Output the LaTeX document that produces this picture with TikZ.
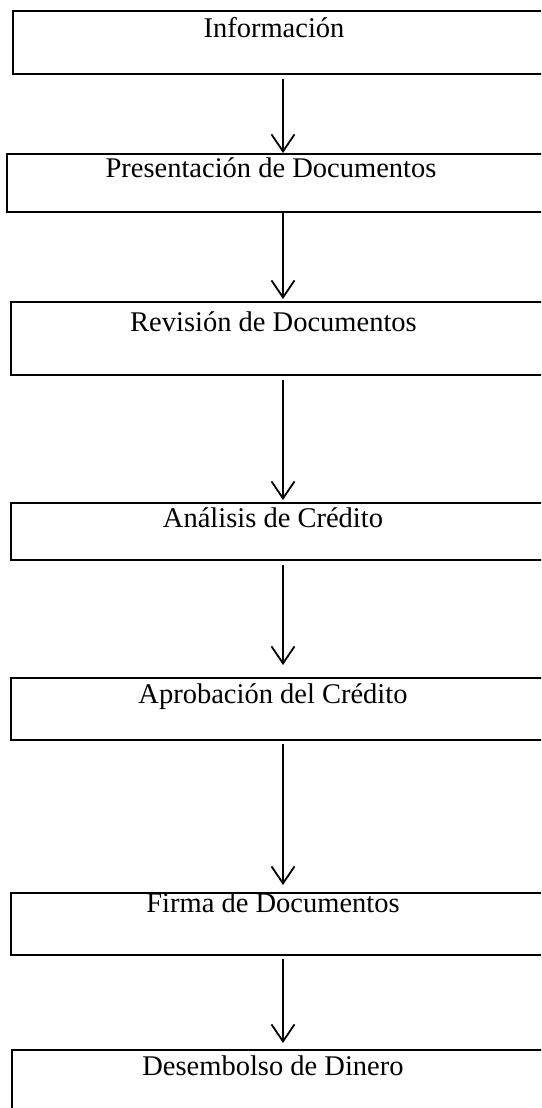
\documentclass[tikz,border=0pt]{standalone}
\usepackage{fontspec}
\setmainfont{Liberation Serif}
\usepackage{tikz}
\usetikzlibrary{arrows.meta, positioning, calc}

\begin{document}
\begin{tikzpicture}[x=1pt, y=-1pt,
    stepbox/.style={draw=black, line width=2pt, anchor=north west,
                    minimum width=560pt, inner sep=0pt},
    steptext/.style={anchor=base, inner sep=0pt,
                     font=\fontsize{28.5}{34}\selectfont},
    flow/.style={draw=black, line width=1.8pt,
                 -{Straight Barb[length=17pt, width=23pt]}}]
\clip (0,0) rectangle (541,1108);
\coordinate (axis) at (283,0);
% boxes
\node[stepbox, minimum height=63pt] (info) at (12,10) {};
\node[stepbox, minimum height=58pt] (pres) at (6,153) {};
\node[stepbox, minimum height=73pt] (rev)  at (10,301) {};
\node[stepbox, minimum height=57pt] (anal) at (10,502) {};
\node[stepbox, minimum height=62pt] (apro) at (10,677) {};
\node[stepbox, minimum height=62pt] (firm) at (10,892) {};
\node[stepbox, minimum height=90pt] (dese) at (11,1049) {};
% texts
\node[steptext] (tinfo) at (274,38)   {Información};
\node[steptext] (tpres) at (271,177)  {Presentación de Documentos};
\node[steptext] (trev)  at (273.5,331) {Revisión de Documentos};
\node[steptext] (tanal) at (273,527)  {Análisis de Crédito};
\node[steptext] (tapro) at (273,703)  {Aprobación del Crédito};
\node[steptext] (tfirm) at (273,912)  {Firma de Documentos};
\node[steptext] (tdese) at (273,1075) {Desembolso de Dinero};
% arrows
\draw[flow] ([yshift=-4pt]info.south -| axis) -- (pres.north -| axis);
\draw[flow] (pres.south -| axis) -- ([yshift=2pt]rev.north -| axis);
\draw[flow] ([yshift=-4pt]rev.south -| axis) -- ([yshift=2pt]anal.north -| axis);
\draw[flow] ([yshift=-4pt]anal.south -| axis) -- ([yshift=12pt]apro.north -| axis);
\draw[flow] ([yshift=-3pt]apro.south -| axis) -- ([yshift=7pt]firm.north -| axis);
\draw[flow] ([yshift=-3pt]firm.south -| axis) -- ([yshift=6pt]dese.north -| axis);
\end{tikzpicture}
\end{document}
